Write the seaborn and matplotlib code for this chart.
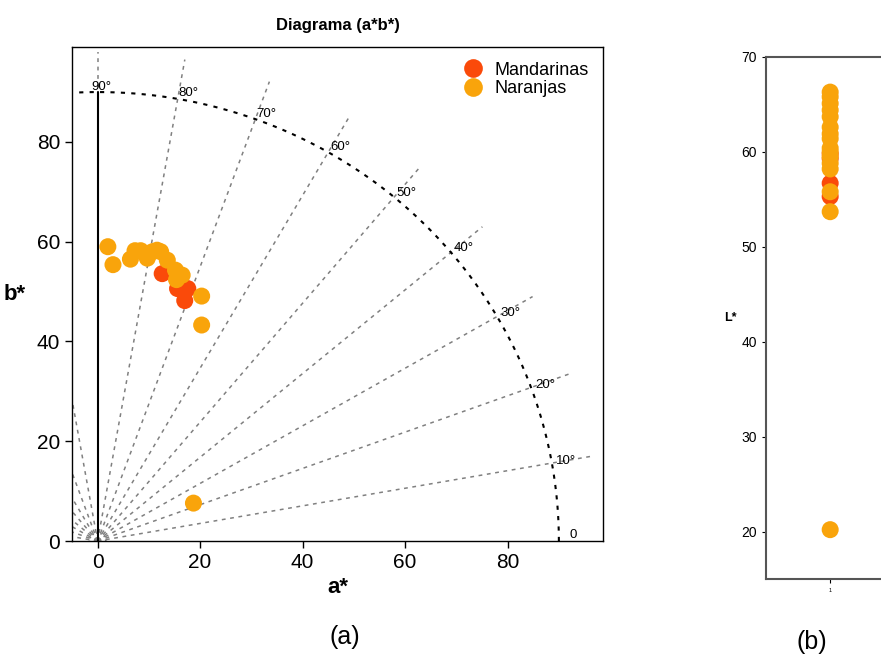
import numpy as np
import pandas as pd
import matplotlib
matplotlib.use('Agg')
import matplotlib.pyplot as plt
import seaborn as sns

# Datos
mand_a = [12.6, 15.6, 17.6, 17.0]
mand_b = [53.6, 50.6, 50.6, 48.2]
mand_L = [59.8, 59.3, 56.7, 55.3]

nar_a = [2.0, 3.0, 6.4, 7.3, 8.4, 9.7, 10.7, 11.6, 12.3, 13.6, 15.2, 16.5, 15.4, 20.3, 20.3, 18.7]
nar_b = [59.0, 55.4, 56.5, 58.2, 58.2, 56.7, 58.0, 58.3, 58.0, 56.3, 54.3, 53.3, 52.4, 49.1, 43.3, 7.6]
nar_L = [66.3, 65.8, 65.1, 64.4, 63.7, 62.6, 61.9, 61.4, 60.4, 60.0, 59.5, 58.8, 58.2, 55.8, 53.7, 20.2]

grupos = ['Mandarinas', 'Naranjas']
colores = {'Mandarinas': '#FA4A0A', 'Naranjas': '#F9A40B'}
angulos = list(range(0, 100, 10))
radio_circulo = 90
radio_lineas = 98

df = pd.DataFrame({
    'a': mand_a + nar_a,
    'b': mand_b + nar_b,
    'L': mand_L + nar_L,
    'grupo': ['Mandarinas'] * len(mand_a) + ['Naranjas'] * len(nar_a),
})
df['x'] = 1

sns.set_style('white')
plt.rcParams['font.family'] = ['Liberation Sans', 'DejaVu Sans']
plt.rcParams['text.color'] = 'black'
plt.rcParams['axes.labelcolor'] = 'black'
plt.rcParams['xtick.color'] = 'black'
plt.rcParams['ytick.color'] = 'black'

fig = plt.figure(figsize=(8.81, 6.55), dpi=100)

# (a) Diagrama a*b*
ax = fig.add_axes([0.0817, 0.174, 0.6027, 0.754])

# líneas de tono (hue) desde el origen
for ang in range(10, 180, 10):
    t = np.deg2rad(ang)
    ax.plot([0, radio_lineas * np.cos(t)], [0, radio_lineas * np.sin(t)],
            ls=(0, (2.5, 3)), color='gray', lw=1.1, zorder=1)
ax.plot([0, 0], [0, radio_circulo], color='black', lw=1.5, zorder=2)

# arco de croma
th = np.linspace(0, np.pi, 300)
ax.plot(radio_circulo * np.cos(th), radio_circulo * np.sin(th),
        ls=(0, (2, 3)), color='black', lw=1.5, zorder=2)
ax.plot(1.6 * np.cos(th), 1.6 * np.sin(th), ls=(0, (1, 1.5)), color='gray', lw=1.2, zorder=1)

for ang in angulos:
    t = np.deg2rad(ang)
    etiqueta = '0' if ang == 0 else f'{ang}°'
    r = 90.8 if ang else 92
    dx = -1.2 if ang == 90 else 0
    dy = 1.2 if ang == 0 else 0.3
    ax.text(r * np.cos(t) + dx, r * np.sin(t) + dy,
            etiqueta, fontsize=9.5, ha='left', va='center', zorder=3)

sns.scatterplot(data=df, x='a', y='b', hue='grupo', hue_order=grupos, palette=colores,
                s=150, edgecolor='none', linewidth=0, ax=ax, zorder=4)

ax.set_xlim(-5, 98.6)
ax.set_ylim(0, 99)
ax.set_xticks([0, 20, 40, 60, 80])
ax.set_yticks([0, 20, 40, 60, 80])
ax.tick_params(axis='both', labelsize=15, direction='out', length=5, width=1,
               bottom=True, left=True)
for sp in ax.spines.values():
    sp.set_color('black')
    sp.set_linewidth(1)
ax.set_title('Diagrama (a*b*)', fontsize=12, fontweight='bold', pad=12)
ax.set_xlabel('a*', fontsize=16, fontweight='bold')
ax.set_ylabel('b*', fontsize=16, fontweight='bold', rotation=0, labelpad=16, va='center')
leg = ax.legend(loc='upper right', frameon=False, fontsize=13, handletextpad=0.2,
                labelspacing=0.1, borderaxespad=0.4, markerscale=1.1)

# (b) L*
ax2 = fig.add_axes([0.8695, 0.116, 0.30, 0.797])
sns.scatterplot(data=df, x='x', y='L', hue='grupo', hue_order=grupos, palette=colores,
                s=150, edgecolor='none', linewidth=0, ax=ax2, legend=False)
ax2.set_xlim(0.5, 2.56)
ax2.set_ylim(15, 70)
ax2.set_xticks([1])
ax2.set_xticklabels(['1'], fontsize=4)
ax2.set_yticks([20, 30, 40, 50, 60, 70])
ax2.tick_params(axis='y', labelsize=10, direction='out', length=3, left=True)
ax2.tick_params(axis='x', direction='out', length=3, bottom=True)
for sp in ax2.spines.values():
    sp.set_color('#555555')
    sp.set_linewidth(1.5)
ax2.set_xlabel('')
ax2.set_ylabel('L*', fontsize=9, fontweight='bold', rotation=0, labelpad=8, va='center')

fig.text(345 / 881, 1 - 637 / 655, '(a)', fontsize=18, ha='center', va='center')
fig.text(812 / 881, 1 - 642 / 655, '(b)', fontsize=18, ha='center', va='center')

fig.savefig('out.png', dpi=100)
